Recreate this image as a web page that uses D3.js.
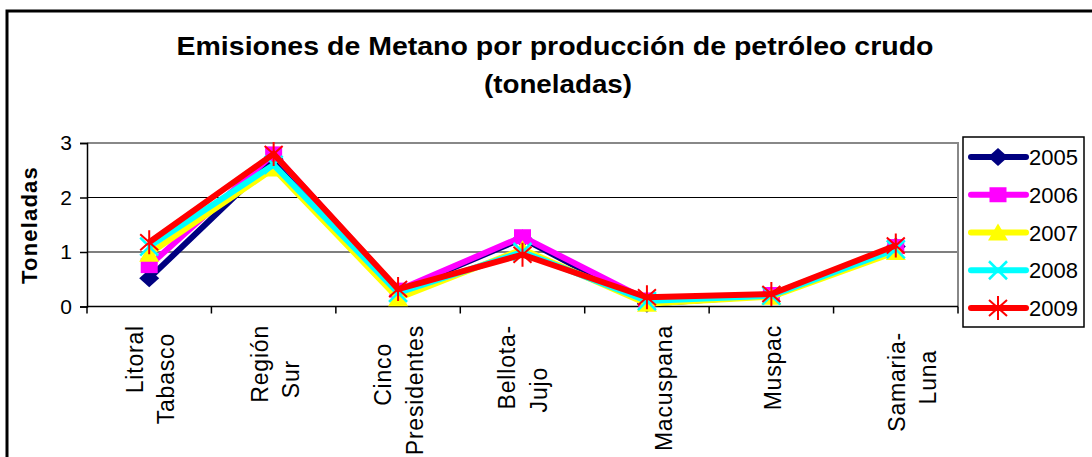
<!DOCTYPE html>
<html><head><meta charset="utf-8">
<script src="https://cdn.jsdelivr.net/npm/d3@7"></script>
<style>
html,body{margin:0;padding:0;background:#fff;}
svg{display:block;font-family:"Liberation Sans",Arial,sans-serif;}
</style></head>
<body>
<svg id="chart" width="1092" height="457"></svg>
<script>
// ---- data ----
const categories = ["Litoral Tabasco","Región Sur","Cinco Presidentes","Bellota- Jujo","Macuspana","Muspac","Samaria- Luna"];
const categoryLines = [["Litoral","Tabasco"],["Región","Sur"],["Cinco","Presidentes"],["Bellota-","Jujo"],["Macuspana"],["Muspac"],["Samaria-","Luna"]];
const years = ["2005","2006","2007","2008","2009"];
const v2005 = [0.52, 2.70, 0.28, 1.25, 0.05, 0.20, 1.10];
const v2006 = [0.75, 2.80, 0.30, 1.28, 0.12, 0.22, 1.10];
const v2007 = [0.97, 2.53, 0.15, 1.05, 0.05, 0.18, 1.00];
const v2008 = [1.10, 2.60, 0.25, 1.00, 0.10, 0.20, 1.05];
const v2009 = [1.18, 2.80, 0.32, 0.95, 0.17, 0.23, 1.12];
const yTicks = [0, 1, 2, 3];
const titleLines = ["Emisiones de Metano por producción de petróleo crudo", "(toneladas)"];
const yAxisTitle = "Toneladas";

// ---- styles / layout ----
const seriesValues = [v2005, v2006, v2007, v2008, v2009];
const colors = ["#000080", "#FF00FF", "#FFFF00", "#00FFFF", "#FF0000"];
const markers = ["diamond", "square", "triangle", "x", "star"];
// per-line label placement: [baseline offset from category centre, top y]
const labelLayout = [
  [[-6, 325], [25, 333]],
  [[-6, 325], [25, 360]],
  [[-7, 343], [24.5, 325]],
  [[-8, 325], [24, 367]],
  [[25, 325]],
  [[10, 325]],
  [[9, 332], [40, 350]]
];

const svg = d3.select("#chart");
const M = {left: 87, right: 958, top: 143, bottom: 306.5};

// outer frame
svg.append("rect").attr("x", 7).attr("y", 11).attr("width", 1200).attr("height", 600)
  .attr("fill", "none").attr("stroke", "#000").attr("stroke-width", 3);

// title
svg.append("text").attr("x", 555).attr("y", 55).attr("text-anchor", "middle")
  .attr("font-size", 25).attr("font-weight", "bold")
  .attr("textLength", 757).attr("lengthAdjust", "spacingAndGlyphs").text(titleLines[0]);
svg.append("text").attr("x", 558).attr("y", 93).attr("text-anchor", "middle")
  .attr("font-size", 25).attr("font-weight", "bold")
  .attr("textLength", 148).attr("lengthAdjust", "spacingAndGlyphs").text(titleLines[1]);

const x = d3.scaleBand().domain(categories).range([M.left, M.right]).padding(0);
const y = d3.scaleLinear().domain([0, 3]).range([M.bottom, M.top]);
const cx = c => x(c) + x.bandwidth() / 2;

// gridlines
svg.append("g").selectAll("line").data(yTicks.filter(t => t > 0 && t < 3)).join("line")
  .attr("x1", M.left).attr("x2", M.right).attr("y1", d => y(d)).attr("y2", d => y(d))
  .attr("stroke", "#000").attr("stroke-width", 1.2);
// plot border (grey top/right)
svg.append("path").attr("d", `M${M.left},${y(3)}H${M.right}V${M.bottom}`)
  .attr("fill", "none").attr("stroke", "#888").attr("stroke-width", 2);

// y axis
const yAxis = d3.axisLeft(y).tickValues(yTicks).tickSize(7).tickPadding(8).tickFormat(d3.format("d"));
const gy = svg.append("g").attr("transform", `translate(${M.left},0)`).call(yAxis);
gy.select(".domain").attr("stroke", "#000").attr("stroke-width", 1.5);
gy.selectAll(".tick line").attr("stroke", "#000").attr("stroke-width", 1.5);
gy.selectAll(".tick text").attr("font-size", 21).attr("font-family", "Liberation Sans, Arial, sans-serif").attr("fill", "#000");

// x axis line + boundary ticks
svg.append("line").attr("x1", M.left).attr("x2", M.right).attr("y1", M.bottom).attr("y2", M.bottom)
  .attr("stroke", "#000").attr("stroke-width", 1.5);
const boundaries = categories.map(c => x(c)).concat([M.right]);
svg.append("g").selectAll("line").data(boundaries).join("line")
  .attr("x1", d => d).attr("x2", d => d).attr("y1", M.bottom).attr("y2", M.bottom + 7)
  .attr("stroke", "#000").attr("stroke-width", 1.5);

// x labels
categoryLines.forEach((lines, i) => {
  lines.forEach((ln, j) => {
    const [dx, top] = labelLayout[i][j];
    const bx = cx(categories[i]) + dx;
    svg.append("text").attr("transform", `translate(${bx},${top}) rotate(-90)`)
      .attr("text-anchor", "end").attr("font-size", 23).attr("letter-spacing", 0.8)
      .attr("fill", "#000").text(ln);
  });
});

// y axis title
svg.append("text").attr("transform", `translate(37,${225}) rotate(-90)`)
  .attr("text-anchor", "middle").attr("font-size", 22).attr("font-weight", "bold")
  .attr("letter-spacing", 1.2).text(yAxisTitle);

// markers
function drawMarker(g, type, color) {
  if (type === "diamond") {
    g.append("path").attr("d", "M0,-9L10,0L0,9L-10,0Z").attr("fill", color);
  } else if (type === "square") {
    g.append("rect").attr("x", -8.5).attr("y", -7.5).attr("width", 17).attr("height", 15).attr("fill", color);
  } else if (type === "triangle") {
    g.append("path").attr("d", "M0,-9L10,8L-10,8Z").attr("fill", color);
  } else if (type === "x") {
    g.append("path").attr("d", "M-9,-9L9,9M-9,9L9,-9").attr("stroke", color).attr("stroke-width", 2.5);
  } else if (type === "star") {
    g.append("path").attr("d", "M-9,-8L9,8M-9,8L9,-8M0,-12V12").attr("stroke", color).attr("stroke-width", 2);
  }
}

const line = d3.line().x((d, i) => cx(categories[i])).y(d => y(d));
seriesValues.forEach((vals, s) => {
  const g = svg.append("g");
  g.append("path").datum(vals).attr("d", line).attr("fill", "none")
    .attr("stroke", colors[s]).attr("stroke-width", 6).attr("stroke-linejoin", "miter");
  g.selectAll("g.m").data(vals).join("g").attr("class", "m")
    .attr("transform", (d, i) => `translate(${cx(categories[i])},${y(d)})`)
    .each(function () { drawMarker(d3.select(this), markers[s], colors[s]); });
});

// legend
const lg = svg.append("g");
lg.append("rect").attr("x", 963).attr("y", 137).attr("width", 121).attr("height", 190)
  .attr("fill", "#fff").attr("stroke", "#000").attr("stroke-width", 1.5);
const ly = d3.scalePoint().domain(years).range([157, 308]);
years.forEach((yr, s) => {
  const row = lg.append("g").attr("transform", `translate(0,${ly(yr)})`);
  row.append("line").attr("x1", 971).attr("x2", 1026).attr("y1", 0).attr("y2", 0)
    .attr("stroke", colors[s]).attr("stroke-width", 6).attr("stroke-linecap", "round");
  const m = row.append("g").attr("transform", "translate(998,0)");
  drawMarker(m, markers[s], colors[s]);
  row.append("text").attr("x", 1029).attr("y", 8).attr("font-size", 22).attr("fill", "#000").text(yr);
});
</script>
</body></html>
